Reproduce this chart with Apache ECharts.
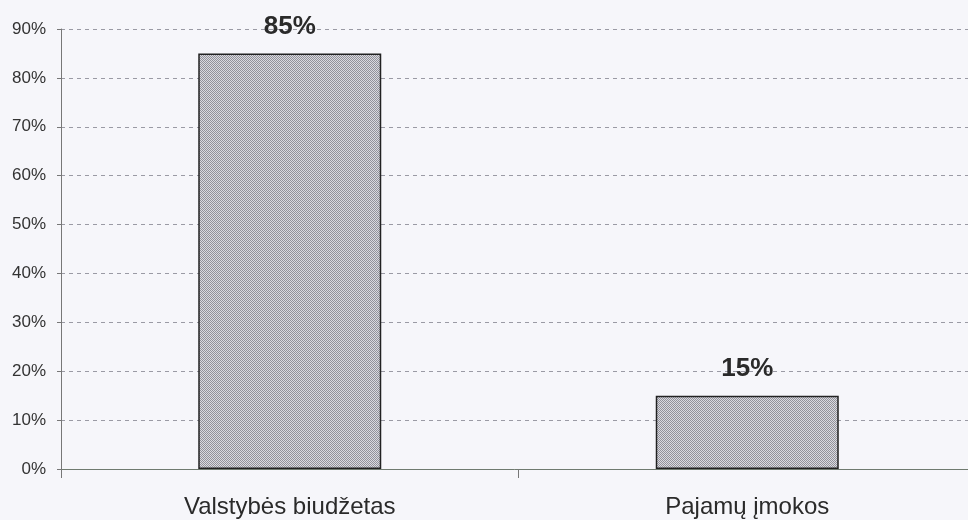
<!DOCTYPE html>
<html>
<head>
<meta charset="utf-8">
<script src="https://cdn.jsdelivr.net/npm/echarts@6/dist/echarts.min.js"></script>
<style>
  html, body { margin: 0; padding: 0; background: #f6f6fa; }
  #chart { width: 968px; height: 520px; }
</style>
</head>
<body>
<div id="chart"></div>
<script>
// duomenys
var categories = ['Valstybės biudžetas', 'Pajamų įmokos']
var shares = [85, 15]
var yTicks = [0, 10, 20, 30, 40, 50, 60, 70, 80, 90]

// taškuotas pilkas užpildas kaip originale
function makePattern() {
  var c = document.createElement('canvas')
  c.width = 2
  c.height = 2
  var ctx = c.getContext('2d')
  ctx.fillStyle = '#dadae0'
  ctx.fillRect(0, 0, 2, 2)
  ctx.fillStyle = '#92929a'
  ctx.fillRect(0, 0, 1, 1)
  ctx.fillRect(1, 1, 1, 1)
  return c
}

var chart = echarts.init(document.getElementById('chart'))
chart.setOption({
  backgroundColor: '#f6f6fa',
  animation: false,
  grid: {
    left: 61,
    right: -8,
    top: 29,
    bottom: 51,
    containLabel: false,
    outerBoundsMode: 'none'
  },
  xAxis: {
    type: 'category',
    data: categories,
    axisLine: { lineStyle: { color: '#6f7a6f', width: 1 } },
    axisTick: { show: true, length: 9, lineStyle: { color: '#777' } },
    axisLabel: {
      margin: 26,
      fontFamily: 'Liberation Sans, Arial',
      fontSize: 24,
      color: '#2a2a2a'
    }
  },
  yAxis: {
    type: 'value',
    min: 0,
    max: 90,
    interval: 10,
    axisLine: { show: true, lineStyle: { color: '#777', width: 1 } },
    axisTick: { show: true, length: 4, lineStyle: { color: '#777' } },
    axisLabel: {
      margin: 15,
      fontFamily: 'Liberation Sans, Arial',
      fontSize: 17,
      color: '#333',
      formatter: function (v) { return yTicks.indexOf(v) >= 0 ? v + '%' : '' }
    },
    splitLine: {
      show: true,
      lineStyle: { color: '#9a9aa4', type: [4, 4], width: 1 }
    }
  },
  series: [
    {
      type: 'bar',
      data: shares,
      barWidth: 183,
      itemStyle: {
        color: { image: makePattern(), repeat: 'repeat' },
        borderColor: '#222',
        borderWidth: 1.5
      },
      label: {
        show: true,
        position: 'top',
        distance: 14,
        formatter: '{c}%',
        fontFamily: 'Liberation Sans, Arial',
        fontWeight: 'bold',
        fontSize: 26,
        color: '#2a2a2a'
      }
    }
  ]
})
</script>
</body>
</html>
